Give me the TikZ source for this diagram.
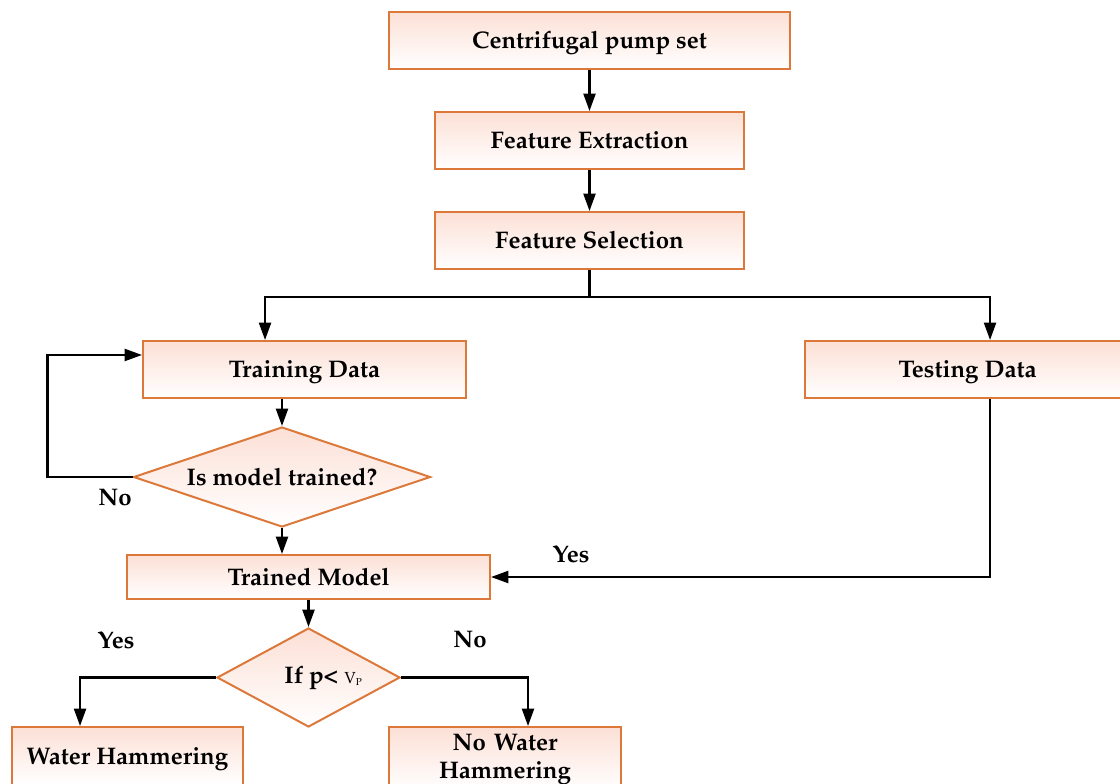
\documentclass[tikz,border=0pt]{standalone}
\usepackage[T1]{fontenc}
\usepackage{mathpazo}
\usetikzlibrary{shapes.geometric,arrows.meta}
\definecolor{bord}{RGB}{219,120,58}
\definecolor{pinktop}{RGB}{252,224,214}
\tikzset{
  txt/.style={font=\fontsize{18}{21}\selectfont\bfseries},
  shade/.style={txt, draw=bord, line width=1.5pt, top color=pinktop, bottom color=white, align=center},
  box/.style={shade, inner sep=2pt, text height=15pt, text depth=2.7pt},
  dia/.style={shade, diamond, inner sep=0pt},
  arr/.style={line width=1.6pt, -{Triangle[length=13pt,width=9pt]}},
  ln/.style={line width=1.6pt},
  lbl/.style={txt}
}
\begin{document}
\begin{tikzpicture}[x=0.75pt,y=-0.75pt]
\clip (0,0) rectangle (1120,783);
\useasboundingbox (0,0) rectangle (1120,783);
% boxes
\node[box, minimum width=300.75pt, minimum height=42.75pt] (b1) at (589.5,40.5) {Centrifugal pump set};
\node[box, minimum width=231.75pt, minimum height=42.75pt] (b2) at (589.5,140.5) {Feature Extraction};
\node[box, minimum width=231.75pt, minimum height=42.75pt] (b3) at (589.5,240.5) {Feature Selection};
\node[box, minimum width=242.25pt, minimum height=42.75pt] (train) at (304.5,369.5) {Training Data};
\node[box, minimum width=243.75pt, minimum height=42.75pt] (test) at (967.5,369.5) {Testing Data};
\node[dia, minimum width=222.75pt, minimum height=75pt, shape aspect=2.97] (d1) at (282,477) {Is model trained?};
\node[box, minimum width=272.25pt, minimum height=33pt] (tm) at (308.5,577) {Trained Model};
\node[dia, minimum width=137.25pt, minimum height=74.25pt, shape aspect=1.85] (d2) at (308.5,677.5) {\hspace*{22pt}If p<~{\mdseries\fontsize{12}{12}\selectfont V}\raisebox{-1.5pt}{\mdseries\fontsize{7.5}{8}\selectfont P}};
\node[box, minimum width=173.25pt, minimum height=43.5pt] (wh) at (127.5,756) {Water Hammering};
\node[shade, inner sep=2pt, minimum width=174pt, minimum height=48pt, text width=150pt] (nwh) at (505,759) {No Water\\Hammering};
% connectors
\draw[arr] (b1) -- (b2);
\draw[arr] (b2) -- (b3);
\coordinate (split) at (589.5,297);
\draw[ln] (b3.south) -- (split);
\draw[arr] (split) -| ([xshift=-29.6pt]train.north);
\draw[arr] (split) -| ([xshift=16.9pt]test.north);
\draw[arr] (d1.north |- train.south) -- (d1.north);
\draw[arr] (d1.west) -- ++(-85,0) |- ([yshift=10.9pt]train.west);
\draw[arr] (d1.south) -- (d1.south |- tm.north);
\draw[arr] ([xshift=16.9pt]test.south) |- (tm.east);
\draw[arr] (tm.south) -- (d2.north);
\draw[arr] (d2.west) -| ([xshift=-35.6pt]wh.north);
\draw[arr] (d2.east) -| ([xshift=17.25pt]nwh.north);
% labels
\node[lbl] (lno1) at (115,498) {No};
\node[lbl] (lyes1) at (571,554) {Yes};
\node[lbl] (lyes2) at (116,640) {Yes};
\node[lbl] (lno2) at (470,640) {No};
\end{tikzpicture}
\end{document}
